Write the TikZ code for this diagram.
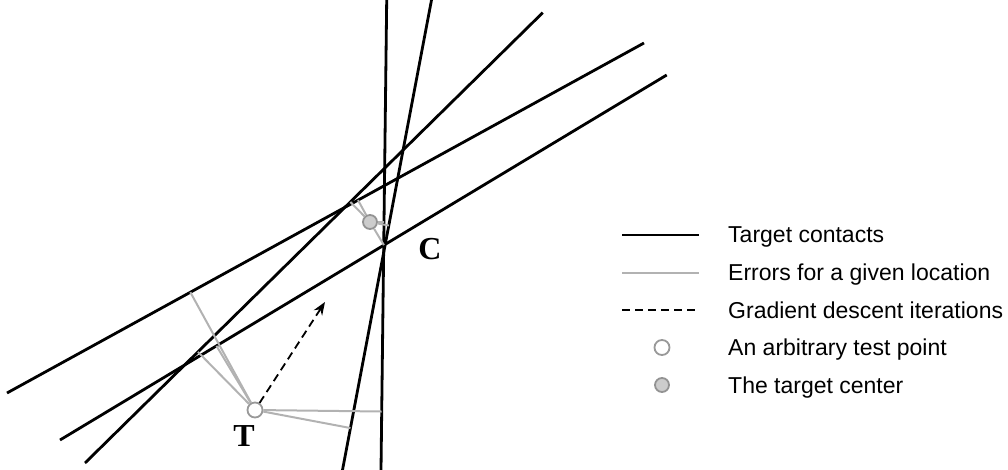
\documentclass[tikz,border=0pt]{standalone}
\usepackage{fontspec}
\setmainfont{Liberation Sans}
\newfontfamily\timesbf{Liberation Serif}
\usepackage{tikz}
\usetikzlibrary{positioning,arrows.meta,calc}

\begin{document}
\begin{tikzpicture}[
		x=1pt,y=-1pt,
		contact/.style={line width=2.8pt,black},
		err/.style={line width=2pt,gray!60},
		descent/.style={line width=1.8pt,dash pattern=on 8pt off 5pt},
		testpt/.style={circle,draw=gray!80,line width=1.8pt,fill=white,
			inner sep=0pt,minimum size=15pt},
		targetpt/.style={circle,draw=gray!85,line width=1.8pt,fill=gray!40,
			inner sep=0pt,minimum size=14pt},
		legend/.style={anchor=base west,inner sep=0pt,
			font=\fontsize{23}{28}\selectfont},
		letter/.style={inner sep=0pt,
			font=\fontsize{32}{36}\selectfont\timesbf\bfseries}
		]
		
		\useasboundingbox (0,0) rectangle (1008,470);
		
		\coordinate (l1a) at (386.7,0);   \coordinate (l1b) at (381,470);
		\coordinate (l2a) at (431.5,0);   \coordinate (l2b) at (342.5,470);
		\coordinate (l3a) at (542.7,12.7); \coordinate (l3b) at (85,463);
		\coordinate (l4a) at (644,43);    \coordinate (l4b) at (7,393);
		\coordinate (l5a) at (666.7,75);  \coordinate (l5b) at (60,440);
		
		\draw[contact] (l1a)--(l1b);
		\draw[contact] (l2a)--(l2b);
		\draw[contact] (l3a)--(l3b);
		\draw[contact] (l4a)--(l4b);
		\draw[contact] (l5a)--(l5b);
		
		\node[testpt] (test) at (255,410) {};
		\node[targetpt] (target) at (370,222) {};
		
		\foreach \l in {1,...,5}{
			\draw[err] (test)--($(l\l a)!(test)!(l\l b)$);
			\draw[err] (target)--($(l\l a)!(target)!(l\l b)$);
		}
		
		\coordinate (step) at (325,302);
		\draw[descent,-{Stealth[length=13pt,width=10pt]}] (test)--(step);
		
		\node[letter] (lblC) at (430,249) {C};
		\node[letter] (lblT) at (244,436) {T};
		
		\node[legend] (key1) at (728,243) {Target contacts};
		\node[legend] (key2) at (728,280.5) {Errors for a given location};
		\node[legend] (key3) at (728,318) {Gradient descent iterations};
		\node[legend] (key4) at (728,355.5) {An arbitrary test point};
		\node[legend] (key5) at (728,393) {The target center};
		
		\coordinate (k1a) at (622,235);   \coordinate (k1b) at (699,235);
		\coordinate (k2a) at (622,272.5); \coordinate (k2b) at (699,272.5);
		\coordinate (k3a) at (622,310);   \coordinate (k3b) at (699,310);
		\draw[contact] (k1a)--(k1b);
		\draw[err] (k2a)--(k2b);
		\draw[descent] (k3a)--(k3b);
		\node[testpt] (key4pt) at (662,347.5) {};
		\node[targetpt] (key5pt) at (662,385) {};
		
	\end{tikzpicture}
\end{document}
